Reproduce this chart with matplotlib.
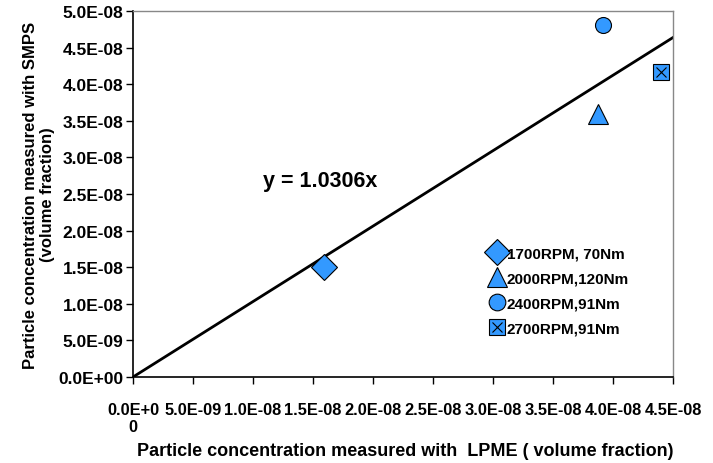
import matplotlib
matplotlib.use("Agg")
import matplotlib.pyplot as plt
from matplotlib.lines import Line2D

plt.rcParams['font.family'] = ['Liberation Sans', 'DejaVu Sans']

# Data
series_labels = ["1700RPM, 70Nm", "2000RPM,120Nm", "2400RPM,91Nm", "2700RPM,91Nm"]
lpme = [1.59e-8, 3.875e-8, 3.92e-8, 4.40e-8]
smps = [1.50e-8, 3.59e-8, 4.81e-8, 4.17e-8]
slope = 1.0306
fit_x = [0.0, 4.5e-8]
xticks = [0, 5e-9, 1e-8, 1.5e-8, 2e-8, 2.5e-8, 3e-8, 3.5e-8, 4e-8, 4.5e-8]
xticklabels = ["0.0E+0\n0", "5.0E-09", "1.0E-08", "1.5E-08", "2.0E-08", "2.5E-08",
               "3.0E-08", "3.5E-08", "4.0E-08", "4.5E-08"]
yticks = [0, 5e-9, 1e-8, 1.5e-8, 2e-8, 2.5e-8, 3e-8, 3.5e-8, 4e-8, 4.5e-8, 5e-8]
yticklabels = ["0.0E+00", "5.0E-09", "1.0E-08", "1.5E-08", "2.0E-08", "2.5E-08",
               "3.0E-08", "3.5E-08", "4.0E-08", "4.5E-08", "5.0E-08"]

blue = "#3399FF"
fig = plt.figure(figsize=(7.13, 4.64), dpi=100)
ax = fig.add_axes([133/713, 1-378/464, 540/713, 366/464])

# trend line
ax.plot(fit_x, [slope*v for v in fit_x], color='black', lw=2, zorder=2)

markers = ['D', '^', 'o', 's']
sizes = [13, 15, 11.5, 11]
for i in range(4):
    ax.plot([lpme[i]], [smps[i]], linestyle='none', marker=markers[i], ms=sizes[i],
            mfc=blue, mec='black', mew=0.8, zorder=3)
ax.plot([lpme[3]], [smps[3]], linestyle='none', marker='x', ms=7, mec='black', mew=0.8, zorder=4)

ax.set_xlim(0, 4.5e-8)
ax.set_ylim(0, 5e-8)
ax.set_xticks(xticks)
ax.set_xticklabels(xticklabels, fontsize=11.8, fontweight='bold', va='top', linespacing=1.15)
ax.set_yticks(yticks)
ax.set_yticklabels(yticklabels, fontsize=12.5, fontweight='bold')
ax.tick_params(axis='x', direction='out', length=5, width=1, pad=13)
ax.tick_params(axis='y', direction='out', length=5, width=1, pad=2)

for s in ['left', 'bottom']:
    ax.spines[s].set_color('black')
    ax.spines[s].set_linewidth(1.2)
for s in ['top', 'right']:
    ax.spines[s].set_color('#888888')
    ax.spines[s].set_linewidth(1.0)

fig.text(405/713, 1-452/464, "Particle concentration measured with  LPME ( volume fraction)",
         fontsize=13, fontweight='bold', ha='center', va='center')
fig.text(39/713, 1-195/464, "Particle concentration measured with SMPS\n(volume fraction)",
         fontsize=12, fontweight='bold', ha='center', va='center', rotation=90,
         multialignment='center', linespacing=1.15)

ax.text(1.08e-8, 2.68e-8, "y = 1.0306x", fontsize=15.5, fontweight='bold', va='center')

handles = []
for i in range(4):
    if i < 3:
        handles.append(Line2D([], [], linestyle='none', marker=markers[i], ms=[13, 15, 12, 11][i],
                              mfc=blue, mec='black', mew=0.8))
    else:
        handles.append((Line2D([], [], linestyle='none', marker='s', ms=11, mfc=blue, mec='black', mew=0.8),
                        Line2D([], [], linestyle='none', marker='x', ms=7, mec='black', mew=0.8)))
leg = ax.legend(handles, series_labels, loc='upper left', bbox_to_anchor=(0.648, 0.374),
                frameon=False, prop={'weight': 'bold', 'size': 11}, handlelength=1.0,
                handletextpad=0.15, labelspacing=0.72, borderaxespad=0)

fig.savefig("out.png", dpi=100)
